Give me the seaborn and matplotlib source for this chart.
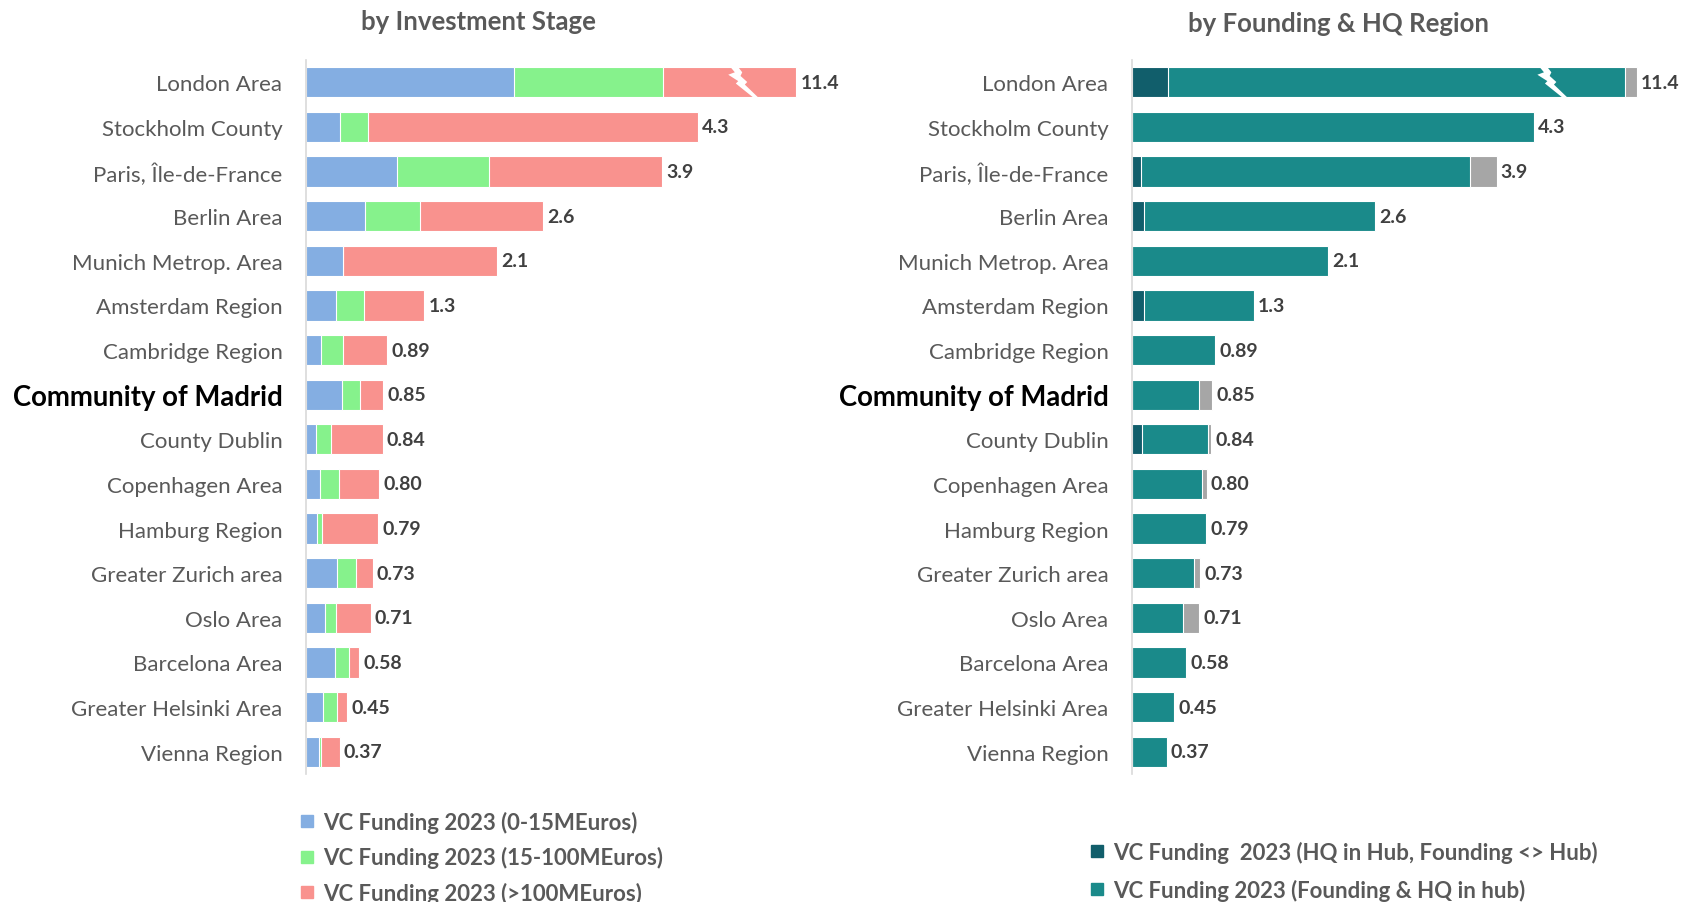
import numpy as np
import matplotlib.pyplot as plt
import seaborn as sns
from matplotlib.lines import Line2D
from matplotlib.patches import Polygon

sns.set_style('white')
plt.rcParams['font.family'] = ['Lato', 'DejaVu Sans']

# Regions (top to bottom)
regions = ['London Area', 'Stockholm County', 'Paris, Île-de-France', 'Berlin Area',
           'Munich Metrop. Area', 'Amsterdam Region', 'Cambridge Region', 'Community of Madrid',
           'County Dublin', 'Copenhagen Area', 'Hamburg Region', 'Greater Zurich area',
           'Oslo Area', 'Barcelona Area', 'Greater Helsinki Area', 'Vienna Region']

# total funding labels (bn EUR) - London bar is drawn truncated (axis break)
totals = ['11.4', '4.3', '3.9', '2.6', '2.1', '1.3', '0.89', '0.85',
          '0.84', '0.80', '0.79', '0.73', '0.71', '0.58', '0.45', '0.37']

# by investment stage (London values as drawn, truncated)
stage_small = [2.28, 0.37, 1.00, 0.65, 0.41, 0.33, 0.17, 0.39, 0.11, 0.15, 0.12, 0.34, 0.21, 0.32, 0.19, 0.14]
stage_mid = [1.64, 0.31, 1.01, 0.60, 0.00, 0.31, 0.24, 0.20, 0.16, 0.21, 0.06, 0.21, 0.12, 0.15, 0.15, 0.03]
stage_large = [1.46, 3.62, 1.90, 1.35, 1.69, 0.66, 0.48, 0.26, 0.57, 0.44, 0.61, 0.18, 0.38, 0.11, 0.11, 0.20]

# by founding & HQ region (London values as drawn, truncated)
hq_only = [0.39, 0.00, 0.10, 0.13, 0.00, 0.13, 0.00, 0.00, 0.11, 0.00, 0.00, 0.00, 0.00, 0.00, 0.00, 0.00]
found_hq = [4.88, 4.30, 3.52, 2.47, 2.10, 1.17, 0.89, 0.72, 0.70, 0.75, 0.79, 0.66, 0.55, 0.58, 0.45, 0.37]
other = [0.13, 0.00, 0.28, 0.00, 0.00, 0.00, 0.00, 0.14, 0.04, 0.05, 0.00, 0.07, 0.17, 0.00, 0.00, 0.00]

c_blue, c_green, c_red = '#84AEE2', '#86F28C', '#F9928E'
c_dark, c_teal, c_gray = '#115E6B', '#1A8A8A', '#A6A6A6'
txt_gray = '#595959'

W, H = 1683, 903
fig = plt.figure(figsize=(W / 100, H / 100), dpi=100)
bottom = 1 - 775 / H
height = 714 / H
ax1 = fig.add_axes([306 / W, bottom, (841 - 306) / W, height])
ax2 = fig.add_axes([1132 / W, bottom, (1666 - 1132) / W, height])

bar_h = 0.68


def stacked(ax, parts, colors):
    cum = np.cumsum(np.array(parts), axis=0)
    # draw longest cumulative first so shorter ones overlay
    for vals, col in reversed(list(zip(cum, colors))):
        sns.barplot(x=vals, y=regions, color=col, orient='h', width=bar_h,
                    saturation=1, edgecolor='white', linewidth=0.8, ax=ax)
    return cum[-1]


def lightning(ax, x0, ppu):
    # white zig-zag break marker on the London bar (pixel offsets -> data)
    pts = [(0, 0), (4.3, 0.17), (-2.3, 0.25), (7.7, 0.46), (5.3, 0.54), (22.7, 1.0),
           (27.7, 1.0), (14.3, 0.575), (16.7, 0.49), (10, 0.29), (11.7, 0.17), (7.7, 0)]
    xy = [(x0 + dx / ppu, -bar_h / 2 + v * bar_h) for dx, v in pts]
    ax.add_patch(Polygon(xy, closed=True, facecolor='white', edgecolor='none', zorder=5))


def style(ax, xmax):
    ax.set_xlim(0, xmax)
    ax.set_ylim(len(regions) - 0.5, -0.5)
    ax.xaxis.set_visible(False)
    ax.set_ylabel('')
    for s in ['top', 'right', 'bottom']:
        ax.spines[s].set_visible(False)
    ax.spines['left'].set_color('#D9D9D9')
    ax.spines['left'].set_linewidth(1.2)
    ax.tick_params(axis='y', length=0, pad=17, labelsize=16, labelcolor=txt_gray)
    for lab in ax.get_yticklabels():
        if lab.get_text() == 'Community of Madrid':
            lab.set_fontweight('bold')
            lab.set_color('black')
            lab.set_fontsize(19.8)


tot1 = stacked(ax1, [stage_small, stage_mid, stage_large], [c_blue, c_green, c_red])
tot2 = stacked(ax2, [hq_only, found_hq, other], [c_dark, c_teal, c_gray])
style(ax1, 535 / 91.1)
style(ax2, 534 / 93.5)

for ax, tot in [(ax1, tot1), (ax2, tot2)]:
    for i, (v, lab) in enumerate(zip(tot, totals)):
        ax.annotate(lab, (v, i), xytext=(3, 0), textcoords='offset points',
                    va='center', ha='left', fontsize=14, fontweight='bold', color='#404040')

lightning(ax1, 4.66, 91.1)
lightning(ax2, 4.36, 93.5)

fig.text(478 / W, 1 - 22 / H, 'by Investment Stage', ha='center', va='center',
         fontsize=18.5, fontweight='bold', color=txt_gray)
fig.text(1339 / W, 1 - 24 / H, 'by Founding & HQ Region', ha='center', va='center',
         fontsize=18.5, fontweight='bold', color=txt_gray)


def handles(cols):
    return [Line2D([], [], marker='s', linestyle='none', markersize=9,
                   markerfacecolor=c, markeredgecolor=c) for c in cols]


leg1 = fig.legend(handles([c_blue, c_green, c_red]),
                  ['VC Funding 2023 (0-15MEuros)', 'VC Funding 2023 (15-100MEuros)',
                   'VC Funding 2023 (>100MEuros)'],
                  loc='upper left', bbox_to_anchor=(276 / W, 1 - 792 / H), frameon=False,
                  handletextpad=0.2, handlelength=1.0, labelspacing=0.6,
                  prop={'size': 16, 'weight': 'bold'}, labelcolor=txt_gray)
leg2 = fig.legend(handles([c_dark, c_teal]),
                  ['VC Funding  2023 (HQ in Hub, Founding <> Hub)',
                   'VC Funding 2023 (Founding & HQ in hub)'],
                  loc='upper left', bbox_to_anchor=(1066 / W, 1 - 822 / H), frameon=False,
                  handletextpad=0.2, handlelength=1.0, labelspacing=0.7,
                  prop={'size': 16, 'weight': 'bold'}, labelcolor=txt_gray)

fig.savefig('out.png', dpi=100)
